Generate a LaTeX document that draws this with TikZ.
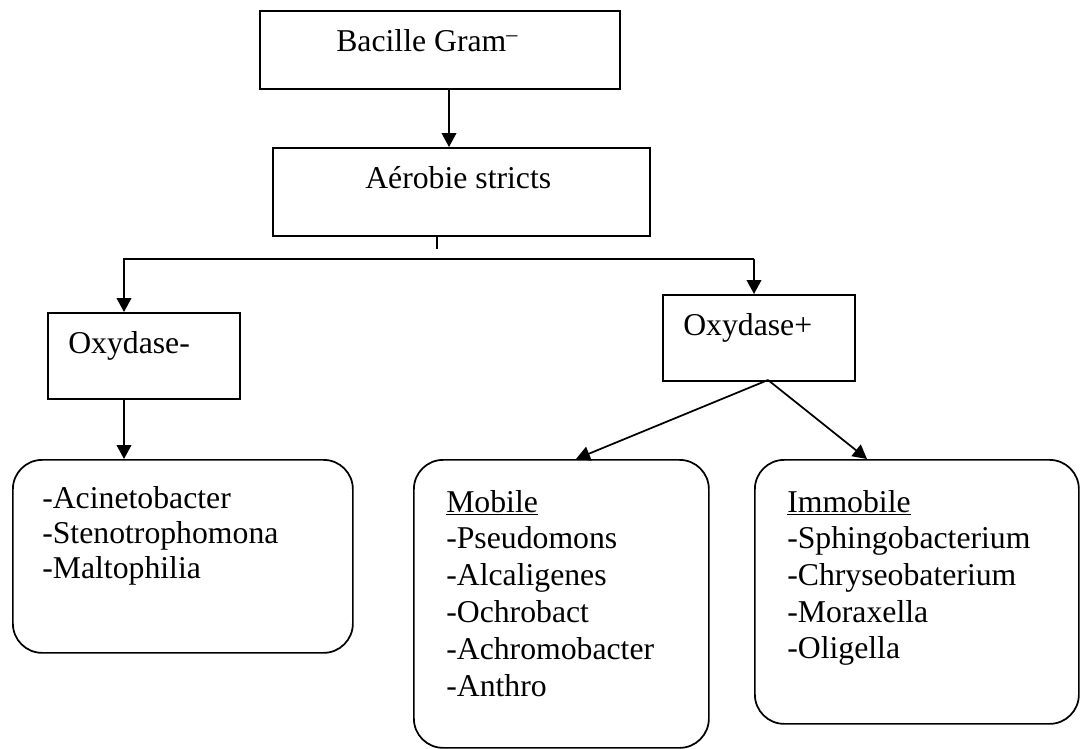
\documentclass[tikz,border=0pt]{standalone}
\usepackage{fontspec}
\setmainfont{Liberation Serif}
\usetikzlibrary{arrows.meta}
\tikzset{
  box/.style={draw, line width=1.3pt, inner sep=0pt, anchor=north west},
  rbox/.style={box, rounded corners=22pt},
  txt/.style={anchor=base west, inner sep=0pt, font=\fontsize{23.8pt}{27.75pt}\selectfont},
  conn/.style={line width=1.3pt},
  arr/.style={conn, -{Triangle[length=10.5pt,width=11pt]}}
}
\begin{document}
\begin{tikzpicture}[x=0.75pt,y=-0.75pt]
\useasboundingbox (0,0) rectangle (1081,749);
% boxes
\node[box, minimum width=270pt, minimum height=58.5pt] (bac) at (259,10) {};
\node[box, minimum width=282.75pt, minimum height=66pt] (aer) at (272,147) {};
\node[box, minimum width=144pt, minimum height=64.5pt] (oxm) at (47,312) {};
\node[box, minimum width=144pt, minimum height=64.5pt] (oxp) at (662,294) {};
\node[rbox, minimum width=255pt, minimum height=144.75pt] (b1) at (12,459) {};
\node[rbox, minimum width=221.25pt, minimum height=216pt] (b2) at (413,459) {};
\node[rbox, minimum width=243pt, minimum height=198pt] (b3) at (754,459) {};
% texts
\node[txt] (tbac) at (336,52) {Bacille Gram\textsuperscript{\raisebox{-0.15ex}{–}}};
\node[txt] (taer) at (365,188) {Aérobie stricts};
\node[txt] (toxm) at (68,353) {Oxydase-};
\node[txt] (toxp) at (683,335) {Oxydase+};
\node[txt] (tb1) at (42,508) {\vtop{\baselineskip=26.5pt\hbox{-Acinetobacter}\hbox{-Stenotrophomona}\hbox{-Maltophilia}}};
\node[txt] (tb2) at (446,512) {\vtop{\baselineskip=27.7pt\hbox{\underline{Mobile}}\hbox{-Pseudomons}\hbox{-Alcaligenes}\hbox{-Ochrobact}\hbox{-Achromobacter}\hbox{-Anthro}}};
\node[txt] (tb3) at (787,512) {\vtop{\baselineskip=27.5pt\hbox{\underline{Immobile}}\hbox{-Sphingobacterium}\hbox{-Chryseobaterium}\hbox{-Moraxella}\hbox{-Oligella}}};
% coordinates
\coordinate (tick) at (437,249);
\coordinate (hl) at (124,259);
\coordinate (hr) at (754,259);
\coordinate (oxpb) at (768,380);
% connectors
\draw[arr] (bac.south -| 449,0) -- (aer.north -| 449,0);
\draw[conn] (aer.south -| tick) -- (tick);
\draw[arr] (hr) -- (hl) -- (oxm.north -| hl);
\draw[arr] (hr) -- (oxp.north -| hr);
\draw[arr] (oxm.south -| hl) -- (b1.north -| hl);
\draw[arr] (oxpb) -- (b2.north -| 576,0);
\draw[arr] (oxpb) -- (b3.north -| 867,0);
\end{tikzpicture}
\end{document}
